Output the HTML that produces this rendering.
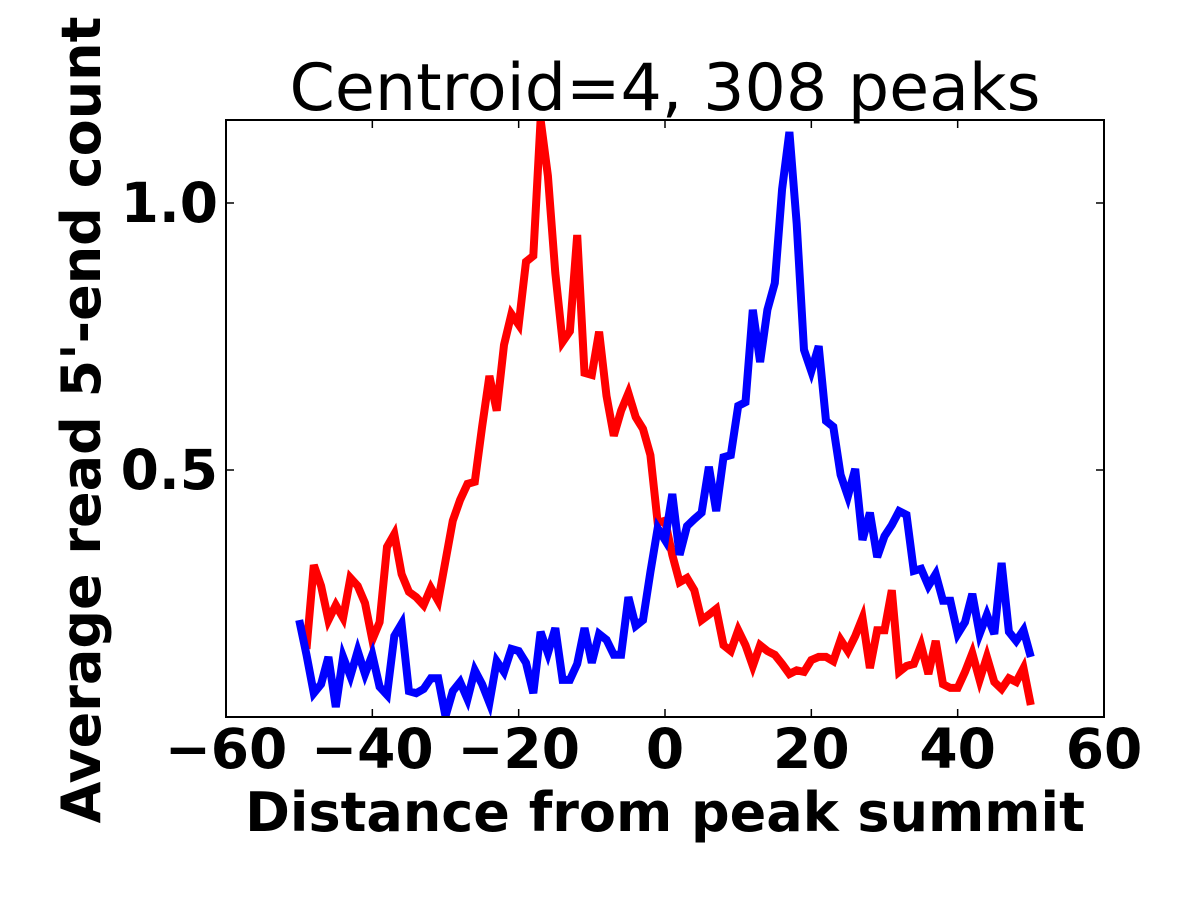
<!DOCTYPE html>
<html><head><meta charset="utf-8"><style>body{margin:0;background:#fff}svg{display:block}</style></head>
<body>
<svg id="chart" width="1200" height="900" xmlns="http://www.w3.org/2000/svg" font-family="'DejaVu Sans','Liberation Sans',sans-serif"></svg>
<script>
const xCats = [];
for (let i = -50; i <= 50; i++) xCats.push(i);
const redValues = [null,0.165,0.322,0.283,0.219,0.247,0.223,0.298,0.283,0.251,0.182,0.215,0.356,0.380,0.305,0.272,0.262,0.247,0.279,0.255,0.330,0.405,0.444,0.474,0.478,0.581,0.676,0.611,0.734,0.792,0.772,0.890,0.901,1.156,1.051,0.869,0.740,0.760,0.940,0.682,0.678,0.759,0.639,0.564,0.611,0.644,0.599,0.577,0.528,0.401,0.405,0.341,0.290,0.298,0.275,0.219,0.229,0.240,0.172,0.161,0.200,0.172,0.133,0.172,0.161,0.154,0.137,0.118,0.125,0.122,0.144,0.150,0.150,0.142,0.182,0.161,0.189,0.223,0.129,0.200,0.200,0.275,0.122,0.133,0.137,0.172,0.118,0.180,0.099,0.092,0.092,0.122,0.157,0.107,0.150,0.103,0.090,0.110,0.103,0.129,0.060];
const blueValues = [0.219,0.154,0.082,0.099,0.150,0.056,0.150,0.114,0.161,0.118,0.154,0.094,0.079,0.189,0.212,0.086,0.082,0.090,0.110,0.110,0.039,0.086,0.103,0.071,0.125,0.099,0.064,0.142,0.122,0.165,0.161,0.139,0.082,0.197,0.157,0.204,0.107,0.107,0.137,0.204,0.139,0.193,0.182,0.154,0.154,0.262,0.208,0.219,0.309,0.391,0.369,0.455,0.341,0.395,0.408,0.420,0.506,0.423,0.524,0.528,0.620,0.627,0.800,0.702,0.800,0.850,1.026,1.133,0.961,0.725,0.685,0.732,0.592,0.581,0.491,0.451,0.502,0.369,0.420,0.337,0.376,0.397,0.423,0.416,0.311,0.315,0.283,0.305,0.255,0.255,0.193,0.215,0.268,0.193,0.229,0.193,0.326,0.197,0.180,0.200,0.150];
const xTicks = [-60,-40,-20,0,20,40,60];
const xTickLabels = ["\u221260","\u221240","\u221220","0","20","40","60"];
const yTicks = [0.5,1.0];
const yTickLabels = ["0.5","1.0"];

const L=226,R=1104,T=120,B=717;
const xMin=-60,xMax=60,yMin=0.0375,yMax=1.1554;
const sx=v=>L+(v-xMin)/(xMax-xMin)*(R-L);
const sy=v=>B-(v-yMin)/(yMax-yMin)*(B-T);
const svg=document.getElementById('chart');
const NS='http://www.w3.org/2000/svg';
function mk(tag,attrs,txt){const e=document.createElementNS(NS,tag);for(const k in attrs)e.setAttribute(k,attrs[k]);if(txt!=null)e.textContent=txt;svg.appendChild(e);return e;}

const clip=document.createElementNS(NS,'clipPath');clip.setAttribute('id','pc');
const cr=document.createElementNS(NS,'rect');cr.setAttribute('x',L);cr.setAttribute('y',T);cr.setAttribute('width',R-L);cr.setAttribute('height',B-T);
clip.appendChild(cr);svg.appendChild(clip);

function series(vals,color,name){
  let d='';let pen=false;
  vals.forEach((v,i)=>{if(v==null){pen=false;return;}d+=(pen?'L':'M')+sx(xCats[i]).toFixed(1)+','+sy(v).toFixed(1);pen=true;});
  const p=mk('path',{d:d,fill:'none',stroke:color,'stroke-width':8,'stroke-linejoin':'miter','clip-path':'url(#pc)'});
  
  
}
series(redValues,'#ff0000','red-series-line');
series(blueValues,'#0000ff','blue-series-line');

const frame=mk('rect',{x:L,y:T,width:R-L,height:B-T,fill:'none',stroke:'#000','stroke-width':2});



xTicks.forEach((t,i)=>{
  const x=sx(t);
  mk('line',{x1:x,y1:B,x2:x,y2:B-8,stroke:'#000','stroke-width':1.5});
  mk('line',{x1:x,y1:T,x2:x,y2:T+8,stroke:'#000','stroke-width':1.5});
  const lb=mk('text',{x:x,y:768,'text-anchor':'middle','font-size':55,'font-weight':'bold'},xTickLabels[i]);
  
  
});
yTicks.forEach((t,i)=>{
  const y=sy(t);
  mk('line',{x1:L,y1:y,x2:L+8,y2:y,stroke:'#000','stroke-width':1.5});
  mk('line',{x1:R,y1:y,x2:R-8,y2:y,stroke:'#000','stroke-width':1.5});
  const lb=mk('text',{x:L-8,y:y+19,'text-anchor':'end','font-size':55,'font-weight':'bold'},yTickLabels[i]);
  
  
});

const title=mk('text',{x:665,y:110,'text-anchor':'middle','font-size':65},'Centroid=4, 308 peaks');


const xl=mk('text',{x:665,y:831,'text-anchor':'middle','font-size':54,'font-weight':'bold'},'Distance from peak summit');


const yl=mk('text',{x:0,y:0,'text-anchor':'middle','font-size':54,'font-weight':'bold',transform:'translate(100,420) rotate(-90)'},"Average read 5'-end count");


</script>
</body></html>
